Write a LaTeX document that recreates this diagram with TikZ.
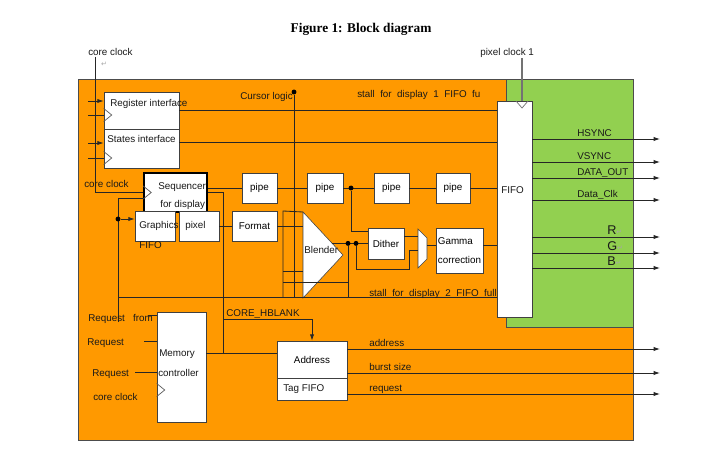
\documentclass[tikz,border=0pt]{standalone}
\usepackage{fontspec}
\setmainfont{Liberation Sans}
\newfontfamily\captionface{Liberation Serif}
\newfontfamily\markface{DejaVu Sans}
\usetikzlibrary{arrows.meta,calc}
\definecolor{coreorange}{RGB}{255,153,0}
\definecolor{pixgreen}{RGB}{146,208,80}
\newcommand{\sigfont}{\fontsize{7}{8}\selectfont}
\newcommand{\retmark}{{\markface\fontsize{5}{6}\selectfont\textcolor{black!35}{↵}}}
\tikzset{
  block/.style={draw=black!75, fill=white, inner sep=0pt, font=\sigfont},
  seqblock/.style={block, draw=black, line width=1.1pt},
  dims/.style 2 args={minimum width=#1*0.25mm, minimum height=#2*0.25mm},
  wire/.style={draw=black!85, line width=0.6pt},
  arrowwire/.style={wire, -{Latex[length=4.5pt,width=3pt]}},
  lbl/.style={inner sep=0pt, font=\sigfont, text=black!90},
  rgblbl/.style={inner sep=0pt, font=\fontsize{9}{10}\selectfont, text=black!90},
  joint/.style={circle, fill=black, inner sep=0pt, minimum size=3.5pt},
  titletext/.style={inner sep=0pt, font=\captionface\bfseries\fontsize{9.5}{11}\selectfont},
  clock/.pic={\draw[black!65, line width=0.5pt] (0,-6.5) -- (8,0) -- (0,6.5);}
}

\begin{document}
\begin{tikzpicture}[x=0.025cm, y=-0.025cm]
  \useasboundingbox (0,0) rectangle (707,472);
  % clock domains
  \filldraw[fill=coreorange, draw=black!70, line width=0.6pt] (78,79) rectangle (633,440);
  \filldraw[fill=pixgreen, draw=black!70, line width=0.6pt] (506,79) rectangle (633,327);

  \node[titletext] (title) at (361,29) {Figure 1: Block diagram};

  % blocks
  \node[block, dims={75}{37}] (regif) at (141.5,110.5) {};
  \node[block, dims={75}{39}] (statesif) at (141.5,148.5) {};
  \node[seqblock, dims={63}{39}] (seq) at (175.5,192.5) {};
  \node[block, dims={40}{30}] (gfifo) at (155,226) {};
  \node[block, dims={40}{30}] (pixbox) at (199,226) {};
  \node[block, dims={45}{30}] (format) at (254.5,226) {Format};
  \node[block, dims={35}{30}] (pipeA) at (259.5,188) {pipe};
  \node[block, dims={36}{30}] (pipeB) at (325,188) {pipe};
  \node[block, dims={35}{30}] (pipeC) at (391.5,188) {pipe};
  \node[block, dims={34}{30}] (pipeD) at (453,188) {pipe};
  \node[block, dims={35}{216}] (fifo) at (514.5,209) {};
  \node[block, dims={36}{31}] (dither) at (386,243.5) {Dither};
  \node[block, dims={47}{45}, align=left, font=\fontsize{7}{13.5}\selectfont] (gamma) at (459.5,250.5) {Gamma\\correction};
  \node[block, dims={49}{110}] (memctl) at (181.5,367) {};
  \node[block, dims={70}{37}] (addr) at (312,359.5) {Address};
  \node[block, dims={70}{22}] (tagfifo) at (312,389) {};

  % blender
  \coordinate (blendTL) at (303,212);
  \coordinate (blendTip) at (343,255);
  \coordinate (blendBL) at (303,298);
  \coordinate (blendIn) at (303,255);
  \filldraw[fill=white, draw=black!75] (blendTL) -- (blendTip) -- (blendBL) -- cycle;

  % mux
  \coordinate (muxA) at (418,236);
  \coordinate (muxB) at (418,250);
  \coordinate (muxC) at (427,245);
  \filldraw[fill=white, draw=black!75] (418,229) -- (427,238) -- (427,259) -- (418,268) -- cycle;

  % clock inputs
  \pic at (regif.west |- 0,115) {clock};
  \pic at (statesif.west |- 0,158) {clock};
  \pic at (seq.west) {clock};
  \pic at (memctl.west |- 0,390) {clock};
  \draw[black!55, line width=0.5pt] (516,101) -- (522,108) -- (528,101);

  % core clock and register inputs
  \coordinate (cclk) at (95,57);
  \draw[wire] (cclk) |- (seq.west);
  \foreach \yy/\nm in {101/dinA, 115/ckA, 143/dinB, 158/ckB}
    \coordinate (\nm) at (88,\yy);
  \draw[arrowwire] (dinA) -- (dinA -| regif.west);
  \draw[wire] (ckA) -- (ckA -| regif.west);
  \draw[arrowwire] (dinB) -- (dinB -| statesif.west);
  \draw[wire] (ckB) -- (ckB -| statesif.west);
  \draw[wire] (regif.east) -- (regif.east -| fifo.west);
  \coordinate (stIf) at ([yshift=1.4mm]statesif.east);
  \draw[wire] (stIf) -- (stIf -| fifo.west);

  % pixel clock
  \coordinate (pclk) at (522,58);
  \draw[black!55, line width=0.8pt] (pclk) -- (pclk |- fifo.north);

  % pipeline
  \draw[wire] (seq.east |- pipeA.west) -- (pipeA.west) (pipeA.east) -- (pipeB.west)
    (pipeB.east) -- (pipeC.west) (pipeC.east) -- (pipeD.west) (pipeD.east) -- (pipeD.east -| fifo.west);
  \node[joint] (tapA) at (351,188) {};
  \draw[wire] (tapA) |- ([yshift=-1mm]dither.north west);
  \draw[wire] (pixbox) -- (format);
  \draw[wire] (format.east) -- (format.east -| blendIn);

  % graphics request
  \coordinate (gfreq) at (118,322);
  \draw[wire] (gfreq) |- ([yshift=-1.5mm]seq.west);
  \node[joint] (gfdot) at (118,219) {};
  \draw[arrowwire] (gfdot) -- (gfdot -| gfifo.west);

  % blender, dither, gamma
  \coordinate (blout) at ($(blendTip)!0.27!(blendTL)$);
  \draw[wire] (blout) -- (blout -| dither.west);
  \node[joint] (dotA) at (348,0 |- blout) {};
  \node[joint] (dotB) at (356,0 |- blout) {};
  \coordinate (stallL) at (118,297);
  \draw[wire] (fifo.west |- stallL) -- (stallL);
  \draw[wire] (dotA) -- (dotA |- stallL);
  \coordinate (bypass) at (409,269);
  \draw[wire] (dotB) |- (bypass) |- (muxB);
  \draw[wire] (dither.east |- muxA) -- (muxA);
  \draw[wire] (muxC) -- (muxC -| gamma.west);
  \draw[wire] (gamma.east |- muxC) -- (fifo.west |- muxC);

  % cursor logic
  \node[joint] (curdot) at (294,92) {};
  \draw[wire] (curdot) -- (curdot |- stallL);
  \coordinate (mixTop) at (283,211);
  \draw[wire] (blendTL) -- (mixTop) -- (mixTop |- stallL);
  \coordinate (mixMid) at (283,271);
  \draw[wire] (mixMid) -- (mixMid -| blendIn);
  \coordinate (mixLow) at (283,282);
  \draw[wire] (mixLow) -- (mixLow -| dotA);

  % memory side
  \coordinate (busB) at (223,353);
  \draw[wire] (seq.east) -| (busB);
  \draw[wire] (memctl.east |- busB) -- (addr.west |- busB);
  \coordinate (hblank) at (223,319);
  \draw[arrowwire] (hblank) -| (addr.north);
  \foreach \xx/\yy/\nm in {148/315/reqA, 144/341/reqB, 135/372/reqC} {
    \coordinate (\nm) at (\xx,\yy);
    \draw[wire] (\nm) -- (\nm -| memctl.west);
  }

  % outputs
  \foreach \yy/\txt/\nm in {139/HSYNC/hs, 162/VSYNC/vs, 178/DATA\_OUT/dout, 200/Data\_Clk/dclk} {
    \coordinate (\nm) at (660,\yy);
    \draw[arrowwire] (fifo.east |- \nm) -- (\nm);
    \node[lbl, anchor=base west] (lbl\nm) at (577,\yy-2.5) {\txt};
  }
  \foreach \yy/\txt/\nm in {237/R/red, 253/G/grn, 268/B/blu} {
    \coordinate (\nm) at (660,\yy);
    \draw[arrowwire] (fifo.east |- \nm) -- (\nm);
    \node[rgblbl, anchor=base west] (lbl\nm) at (607,\yy-2.5) {\txt\retmark};
  }
  \foreach \yy/\txt/\nm in {349/address/oad, 373/burst size/obs, 394/request/orq} {
    \coordinate (\nm) at (660,\yy);
    \draw[arrowwire] (addr.east |- \nm) -- (\nm);
    \node[lbl, anchor=base west] (lbl\nm) at (369,\yy-2.5) {\txt};
  }

  % labels
  \node[lbl, anchor=west] (cclkTxt) at (88,52) {core clock};
  \node[inner sep=0pt] (cclkMark) at (104,64) {\retmark};
  \node[lbl, anchor=west] (pclkTxt) at (480,53) {pixel clock 1};
  \node[lbl, anchor=west] (regifTxt) at (110,104) {Register interface};
  \node[lbl, anchor=west] (statesTxt) at (107,139) {States interface};
  \node[lbl, anchor=west] (cursorTxt) at (240,97) {Cursor logic};
  \node[lbl, anchor=west] (stallATxt) at (357,95) {stall~~for~~display~~1~~FIFO~~fu};
  \node[lbl, anchor=west] (seqclkTxt) at (84,184) {core clock};
  \node[lbl, anchor=west] (seqTxtA) at (158,187) {Sequencer};
  \node[lbl, anchor=west] (seqTxtB) at (160,205) {for display};
  \node[lbl, anchor=west] (gfifoTxtA) at (139,226) {Graphics};
  \node[lbl, anchor=west] (gfifoTxtB) at (139,245) {FIFO};
  \node[lbl, anchor=west] (pixTxt) at (185,226) {pixel};
  \node[lbl, anchor=west] (blendTxt) at (304,250) {Blender};
  \node[lbl, anchor=west] (fifoTxt) at (501,190) {FIFO};
  \node[lbl, anchor=base west] (stallBTxt) at (369,296.5) {stall~~for~~display~~2~~FIFO~~full};
  \node[lbl, anchor=base west] (hblankTxt) at (226,316) {CORE\_HBLANK};
  \node[lbl, anchor=west] (reqATxt) at (88,319) {Request~~~from};
  \node[lbl, anchor=west] (reqBTxt) at (87,343) {Request};
  \node[lbl, anchor=west] (reqCTxt) at (92,374) {Request};
  \node[lbl, anchor=west] (memclkTxt) at (93,397) {core clock};
  \node[lbl, anchor=west] (memTxtA) at (159,354) {Memory};
  \node[lbl, anchor=west] (memTxtB) at (158,373) {controller};
  \node[lbl, anchor=west] (tagTxt) at (283,389) {Tag FIFO};
\end{tikzpicture}
\end{document}
